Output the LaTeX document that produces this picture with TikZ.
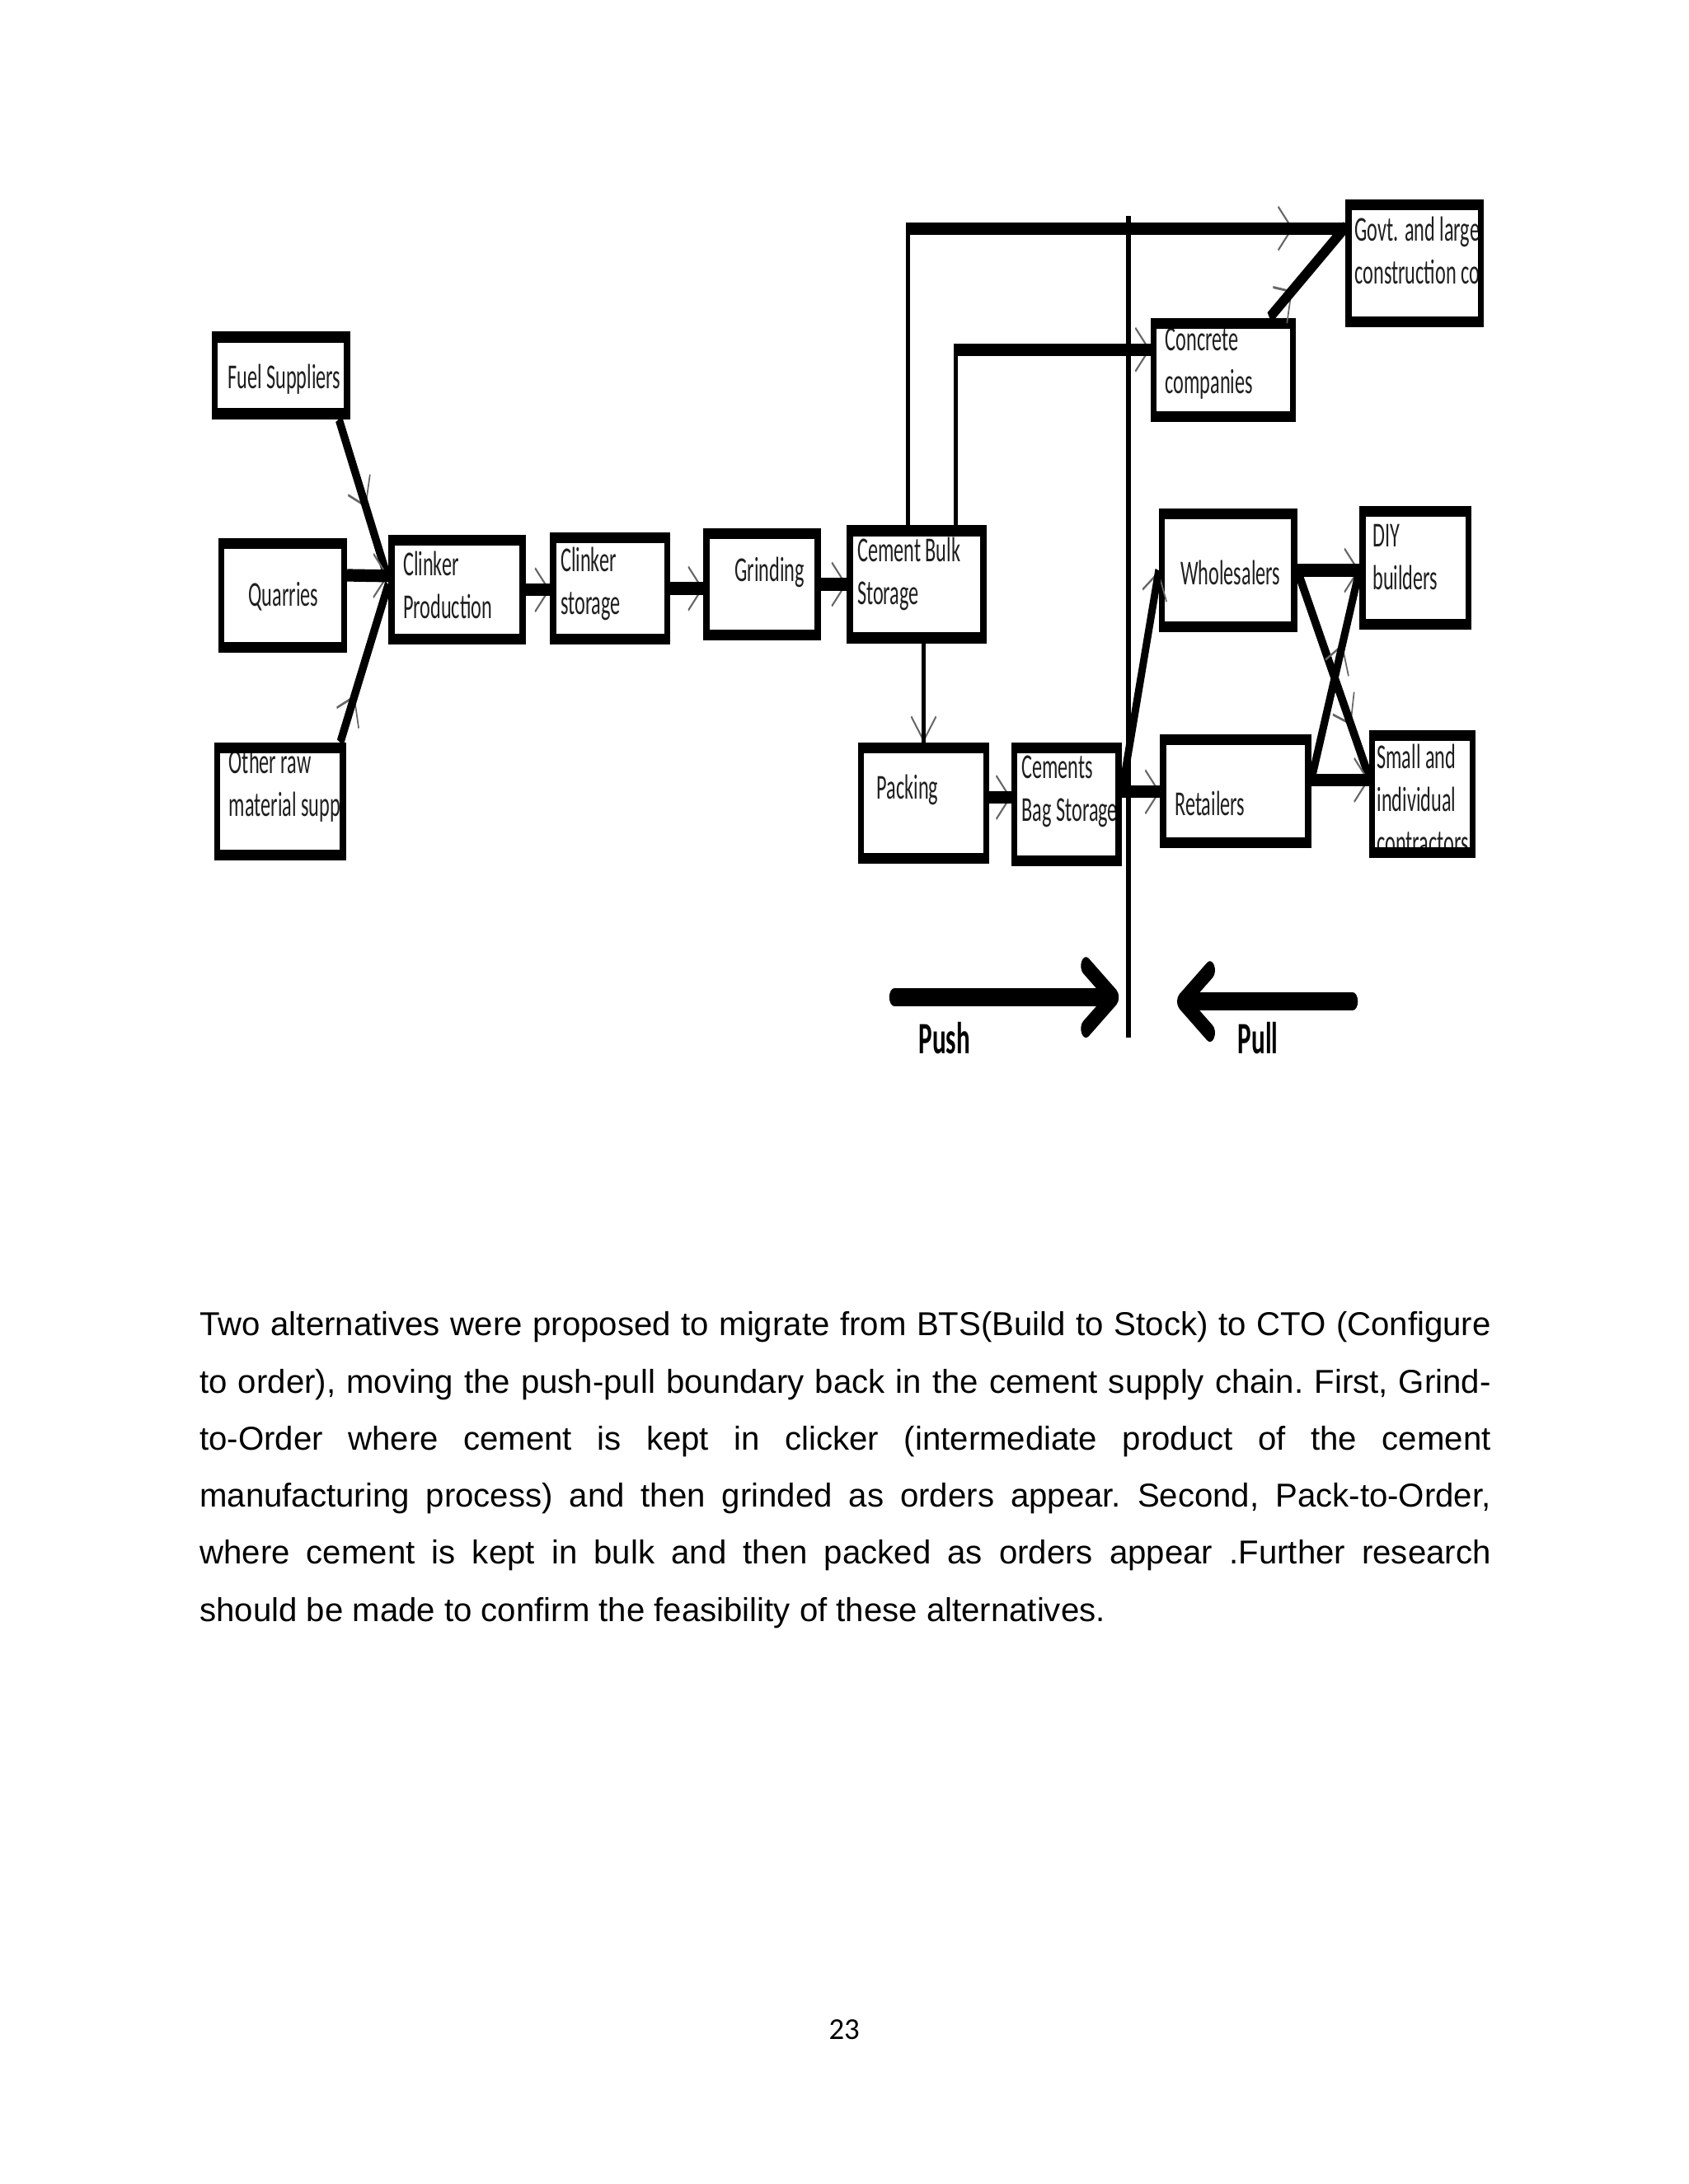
\documentclass[tikz,border=0pt]{standalone}
\usepackage{fontspec}
\setmainfont{Liberation Sans}
\newfontfamily\boxfont{Carlito}
\newfontfamily\pnfont{Carlito}
\usetikzlibrary{arrows.meta,decorations.markings,calc,fit}
\begin{document}
\begin{tikzpicture}[x=0.50495pt,y=-0.50495pt,
  box/.style={draw=black,line width=2.25pt,inner sep=0pt},
  lbl/.style={font=\boxfont\fontsize{7.25pt}{8.9pt}\selectfont,text=black!88,inner sep=0pt,anchor=west,align=left},
  conn/.style={line width=2.6pt},
  thinconn/.style={line width=1.5pt},
  mk/.style={preaction={decorate,decoration={markings,mark=at position #1 with {\arrow[color=black!60,line width=0.5pt]{Straight Barb[length=5pt,width=9pt]}}}}},
  mk/.default=0.999,
  boundary/.style={line width=1.9pt},
  bigarrow/.style={line width=3.7pt,line cap=round,-{Straight Barb[round,length=10pt,width=13pt]}},
  pp/.style={font=\boxfont\bfseries\fontsize{9.3pt}{11pt}\selectfont,inner sep=0pt},
]
\fill[white] (0,0) rectangle (1212,1568);
\useasboundingbox (0,0) rectangle (1212,1568);

% the diagram is drawn stretched vertically, as in the reference
\begin{scope}[transform canvas={yscale=1.75},y={(0,-0.288543pt)}]
% ---------- box texts ----------
\node[lbl] (fuelT) at (163,272) {Fuel Suppliers};
\node[lbl] (quarT) at (178,428) {Quarries};
\node[lbl] (otherT) at (164,564) {Other raw\\material supp};
\node[lbl] (cprodT) at (289,420) {Clinker\\Production};
\node[lbl] (cstorT) at (402,419) {Clinker\\storage};
\node[lbl] (grindT) at (527,411) {Grinding};
\node[lbl] (bulkT) at (615,412) {Cement Bulk\\Storage};
\node[lbl] (packT) at (629,567) {Packing};
\node[lbl] (bagT) at (733,568) {Cements\\Bag Storage};
\node[lbl] (concT) at (836,261) {Concrete\\companies};
\node[lbl] (govtT) at (972,180) {Govt. and large\\construction co};
\node[lbl] (wholeT) at (847,411) {Wholesalers};
\node[lbl] (retailT) at (843,577) {Retailers};
\node[lbl] (diyT) at (985,400) {DIY\\builders};
\begin{scope}
\clip (988,531) rectangle (1054,609);
\node[lbl] (smallT) at (988,574) {Small and\\individual\\contractors};
\end{scope}

% ---------- boxes ----------
\node[box,fit={(154,242) (249,297)}] (fuel) {};
\node[box,fit={(159,390) (247,465)}] (quar) {};
\node[box,fit={(156,537) (246,614)}] (other) {};
\node[box,fit={(281,388) (375,459)}] (cprod) {};
\node[box,fit={(397,386) (479,459)}] (cstor) {};
\node[box,fit={(507,383) (587,456)}] (grind) {};
\node[box,fit={(610,381) (706,458)}] (bulk) {};
\node[box,fit={(618,537) (708,616)}] (pack) {};
\node[box,fit={(728,537) (803,618)}] (bag) {};
\node[box,fit={(828,232) (928,299)}] (conc) {};
\node[box,fit={(968,147) (1063,231)}] (govt) {};
\node[box,fit={(834,369) (929,450)}] (whole) {};
\node[box,fit={(835,531) (939,605)}] (retail) {};
\node[box,fit={(978,367) (1054,448)}] (diy) {};
\node[box,fit={(985,528) (1057,612)}] (small) {};

% ---------- push/pull boundary ----------
\coordinate (bt) at (810,155);
\coordinate (bb) at (810,745);
\draw[boundary] (bt) -- (bb);

% ---------- connectors ----------
\coordinate (cin1) at ($(cprod.west)+(0,-7)$);
\coordinate (cin2) at ($(cprod.west)+(0,-10)$);
\coordinate (cin3) at ($(cprod.west)+(0,-4)$);
\draw[conn,mk=0.55] ($(fuel.south east)+(-8,0)$) -- (cin1);
\draw[conn,mk] ($(quar.east)+(0,-14.5)$) -- (cin2);
\draw[conn,mk=0.3] ($(other.north east)+(-4,0)$) -- (cin3);
\draw[conn,mk] (cprod.east) -- (cprod.east -| cstor.west);
\draw[conn,mk] (cstor.east) -- (cstor.east -| grind.west);
\draw[conn,mk] (grind.east) -- (grind.east -| bulk.west);

\coordinate (k1) at (652,164);
\draw[thinconn] (bulk.north -| k1) -- (k1);
\draw[conn,mk=-19pt] ($(k1)+(-1.5,0)$) -- (k1 -| govt.west);
\coordinate (k2) at (686,251);
\draw[thinconn] (bulk.north -| k2) -- (k2);
\draw[conn,mk] ($(k2)+(-1.5,0)$) -- (k2 -| conc.west);
\draw[conn,mk=0.3] ($(conc.north east)+(-19,0)$) -- ($(govt.north west)+(0,20)$);

\draw[thinconn,mk] (pack.north |- bulk.south) -- (pack.north);
\coordinate (p1) at ($(pack.east)+(0,-4)$);
\draw[conn,mk] (p1) -- (p1 -| bag.west);
\coordinate (b1) at ($(bag.east)+(0,-9)$);
\draw[conn,mk] (b1) -- (b1 -| retail.west);
\draw[conn,mk] (b1) -- (whole.west);

\draw[conn,mk] (whole.east) -- (whole.east -| diy.west);
\draw[conn,mk=0.75] (whole.east) -- ($(small.west)+(0,-12)$);
\coordinate (r1) at ($(retail.east)+(0,-8)$);
\draw[conn,mk=0.65] (r1) -- ($(diy.west)+(0,2)$);
\draw[conn,mk] (r1) -- (r1 -| small.west);

% ---------- push / pull arrows ----------
\coordinate (pushS) at (642,716);
\coordinate (pushE) at (803,716);
\draw[bigarrow] (pushS) -- (pushE);
\coordinate (pullS) at (971,719);
\coordinate (pullE) at (845,719);
\draw[bigarrow] (pullS) -- (pullE);
\node[pp] (pushT) at (678,745) {Push};
\node[pp] (pullT) at (903,745) {Pull};
\end{scope}

% ---------- paragraph and page number ----------
\node[anchor=base west,text width=468pt,align=justify,inner sep=0pt,font=\fontsize{12pt}{20.7pt}\selectfont\frenchspacing] (para) at (143,959)
{Two alternatives were proposed to migrate from BTS(Build to Stock) to CTO (Configure\linebreak
to order), moving the push-pull boundary back in the cement supply chain. First, Grind-\linebreak
to-Order where cement is kept in clicker (intermediate product of the cement\linebreak
manufacturing process) and then grinded as orders appear. Second, Pack-to-Order,\linebreak
where cement is kept in bulk and then packed as orders appear .Further research\linebreak
should be made to confirm the feasibility of these alternatives.};
\node[font=\pnfont\fontsize{11pt}{13pt}\selectfont] (pnum) at (606,1457) {23};
\end{tikzpicture}
\end{document}
